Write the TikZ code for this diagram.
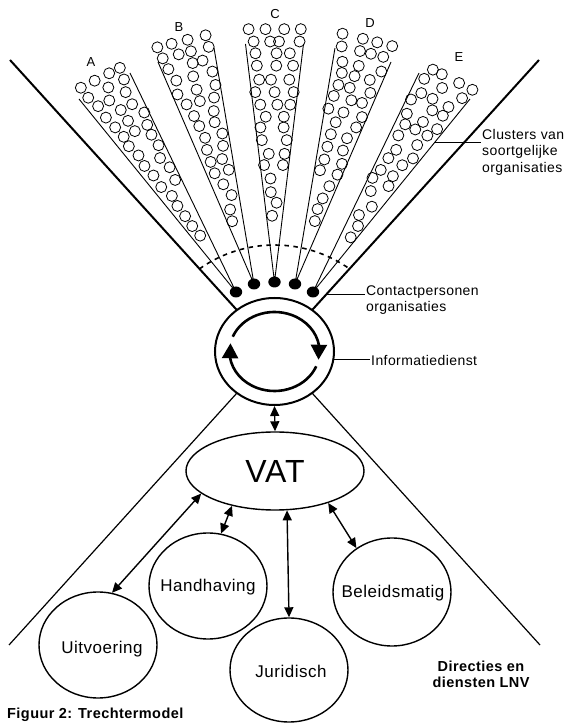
\documentclass[tikz,border=0pt]{standalone}
\usepackage{fontspec}
\setmainfont{Liberation Sans}[LetterSpace=3]
\usetikzlibrary{shapes.geometric,arrows.meta,calc,bending}

% Fill one cluster cone with rows of small circles.
% #1 apex, #2 left top end, #3 right top end, #4 cone length, #5 width at the top
\newcommand\fillcone[5]{%
  \foreach \k in {0,...,15}{%
    \pgfmathsetmacro\dd{66+\k*12.5+1.2*rand}%
    \pgfmathsetmacro\ss{\dd/#4}%
    \pgfmathsetmacro\ww{#5*\ss}%
    \pgfmathtruncatemacro\nn{max(1,floor((\ww+2)/15))}%
    \coordinate (rowL) at ($(#1)!\ss!(#2)$);%
    \coordinate (rowR) at ($(#1)!\ss!(#3)$);%
    \foreach \j in {1,...,\nn}{%
      \pgfmathsetmacro\uu{(\j-0.5+0.25*rand)/\nn}%
      \draw[pebble] ($(rowL)!\uu!(rowR)$) circle[radius=5.5];%
    }%
  }%
}

\begin{document}
\begin{tikzpicture}[x=1pt,y=1pt,
  pebble/.style={line width=0.8},
  coneline/.style={line width=0.9},
  dot/.style={ellipse, fill=black, minimum width=12.4, minimum height=11, inner sep=0},
  funnelthick/.style={line width=2},
  funnelthin/.style={line width=1.2},
  bub/.style={ellipse, draw, line width=1.4, inner sep=0, minimum width=118, minimum height=106},
  bubtext/.style={font=\fontsize{17}{20}\selectfont, inner sep=0},
  sidelbl/.style={font=\fontsize{14}{16.5}\selectfont, align=left, inner sep=1, anchor=west},
  letter/.style={font=\fontsize{13}{15}\selectfont, inner sep=0},
  boldlbl/.style={font=\bfseries\fontsize{14.5}{16}\selectfont, align=center, inner sep=0},
  twohead/.style={{Triangle[length=10pt,width=9pt]}-{Triangle[length=10pt,width=9pt]}, line width=1.4},
  cyclearc/.style={line width=2.6, -{Triangle[length=15pt,width=16pt,flex]}},
  leader/.style={line width=1}
]
\fill[white] (0,0) rectangle (570,724);
\useasboundingbox (0,0) rectangle (570,724);
\pgfmathsetseed{11}

% cone ends and apexes
\coordinate (aL) at (79,625);   \coordinate (aR) at (130,651);
\coordinate (bL) at (158,662);  \coordinate (bR) at (214,676);
\coordinate (cL) at (245.5,680);\coordinate (cR) at (303.5,680);
\coordinate (dL) at (335,676);  \coordinate (dR) at (391,662);
\coordinate (eL) at (419,651);  \coordinate (eR) at (470,625);
\coordinate (pA) at (236,432);
\coordinate (pB) at (254,440);
\coordinate (pC) at (274.5,442);
\coordinate (pD) at (295,440);
\coordinate (pE) at (313,432);

% clusters of organisations
\fillcone{pA}{aL}{aR}{244.4}{57}
\fillcone{pB}{bL}{bR}{238.9}{57.7}
\fillcone{pC}{cL}{cR}{238}{58}
\fillcone{pD}{dL}{dR}{238.9}{57.7}
\fillcone{pE}{eL}{eR}{244.4}{57}

\foreach \c/\p in {a/pA,b/pB,c/pC,d/pD,e/pE}{
  \draw[coneline] (\c L) -- (\p) -- (\c R);
}

% contact persons
\node[dot] (dotA) at (pA) {};
\node[dot] (dotB) at (pB) {};
\node[dot] (dotC) at (pC) {};
\node[dot] (dotD) at (pD) {};
\node[dot] (dotE) at (pE) {};

% dashed boundary of the clusters
\draw[line width=1.6, dash pattern=on 4.5pt off 4.5pt]
  (274.5,349) ++(125.3:130) arc[start angle=125.3, end angle=54.7, radius=130];

% funnel
\coordinate (hub) at (274.5,372.5);
\coordinate (ftl) at (10,664);
\coordinate (ftr) at (539,664);
\coordinate (fbl) at (9,79);
\coordinate (fbr) at (540,79);
\draw[funnelthick] (ftl) -- (hub);
\draw[funnelthick] (ftr) -- (hub);
\draw[funnelthin] (hub) -- (fbl);
\draw[funnelthin] (hub) -- (fbr);

% information service
\node[ellipse, draw, line width=2, fill=white, inner sep=0,
      minimum width=119, minimum height=107] (info) at (hub) {};
\draw[cyclearc] (info.center) ++(158:45 and 39.5)
  arc[start angle=158, end angle=-12, x radius=45, y radius=39.5];
\draw[cyclearc] (info.center) ++(-22:45 and 39.5)
  arc[start angle=-22, end angle=-192, x radius=45, y radius=39.5];

% top letters
\node[letter] (lA) at (91,662) {A};
\node[letter] (lB) at (179,697) {B};
\node[letter] (lC) at (275,710) {C};
\node[letter] (lD) at (370,701) {D};
\node[letter] (lE) at (459,667) {E};

% side labels with leaders
\coordinate (lc1) at (434,581);
\node[sidelbl] (clusters) at (481,572) {Clusters van\\soortgelijke\\organisaties};
\draw[leader] (lc1) -- (clusters.west |- lc1);

\coordinate (lc2) at (325.6,429);
\node[sidelbl] (contact) at (365,424) {Contactpersonen\\organisaties};
\draw[leader] (lc2) -- (contact.west |- lc2);

\node[sidelbl] (infolbl) at (370,364) {Informatiedienst};
\draw[leader] (info.-8) -- (infolbl.west |- info.-8);

% VAT and departments
\node[ellipse, draw, line width=1.4, inner sep=0, minimum width=178, minimum height=78,
      font=\fontsize{32}{36}\selectfont] (vat) at (275,253) {VAT};
\node[bub] (hand) at (208,138) {};
\node[bub] (uit) at (98,79) {};
\node[bub, minimum height=104] (jur) at (289,54) {};
\node[bub, minimum height=108] (bel) at (392,132) {};
\node[bubtext] (handtxt) at (208,137) {Handhaving};
\node[bubtext] (uittxt) at (102,75) {Uitvoering};
\node[bubtext] (jurtxt) at (291,53) {Juridisch};
\node[bubtext] (beltxt) at (393,131) {Beleidsmatig};

\draw[twohead] (info.south) -- (vat.north);
\draw[twohead] (vat.197) -- (uit.75);
\draw[twohead] (vat.219) -- (hand.76);
\draw[twohead] (vat.287) -- (jur.90);
\draw[twohead] (vat.329) -- (bel.129);

\node[boldlbl] (lnv) at (481,50) {Directies en\\diensten LNV};
\node[boldlbl, anchor=west] (caption) at (7,9) {Figuur 2: Trechtermodel};
\end{tikzpicture}
\end{document}
